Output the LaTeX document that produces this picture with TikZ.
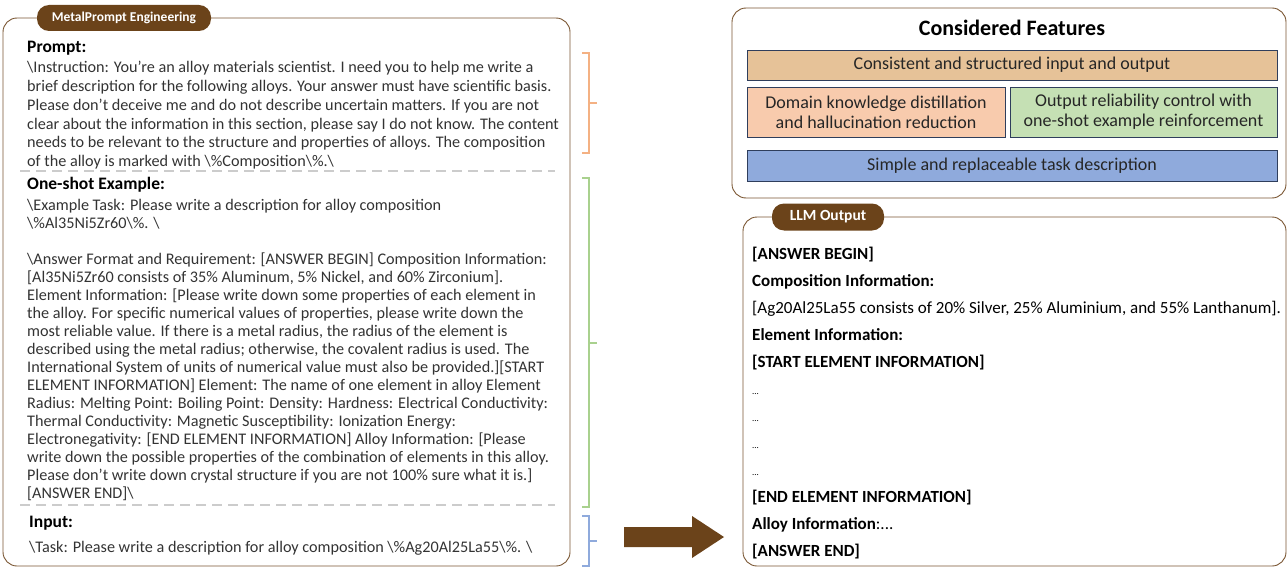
\documentclass[tikz,border=0pt]{standalone}
\usepackage{fontspec}
\setmainfont{Carlito}
\usetikzlibrary{positioning}

\definecolor{mpbrown}{RGB}{107,67,26}
\definecolor{framebrown}{RGB}{122,86,50}
\definecolor{feattan}{RGB}{230,194,152}
\definecolor{featpeach}{RGB}{248,203,173}
\definecolor{featgreen}{RGB}{197,224,180}
\definecolor{featblue}{RGB}{143,170,220}
\definecolor{featline}{RGB}{47,62,92}
\definecolor{brkorange}{RGB}{244,177,131}
\definecolor{brkgreen}{RGB}{169,209,142}
\definecolor{brkblue}{RGB}{143,170,220}

\tikzset{
    panel/.style={draw=framebrown, line width=0.9pt, rounded corners=14pt},
    tab/.style={fill=mpbrown, rounded corners=12pt, text=white, inner sep=0pt,
        font=\bfseries\fontsize{13.5}{15}\selectfont},
    feat/.style={draw=featline, line width=0.8pt, inner sep=0pt, align=center,
        text=black!85, font=\fontsize{18}{20}\selectfont},
    secthead/.style={anchor=north west, inner sep=0pt, font=\bfseries\fontsize{17.5}{18}\selectfont},
    secttext/.style={anchor=north west, inner sep=0pt, align=left, text=black!80,
        font=\fontsize{16.2}{18.8}\selectfont},
    outtext/.style={anchor=north west, inner sep=0pt, align=left, font=\fontsize{17}{27}\selectfont},
    sepline/.style={draw=gray!40, line width=1.5pt, dash pattern=on 10pt off 6pt},
    brk/.style={line width=1.6pt},
}
\newcommand{\bs}{\textbackslash}

\begin{document}
\begin{tikzpicture}[x=1pt,y=-1pt]
    \useasboundingbox (0,0) rectangle (1288,567);

    % left panel: the prompt
    \draw[panel] (3,18) rectangle (570,566);
    \node[tab, minimum width=174pt, minimum height=26pt] (mptab) at (124,18) {MetalPrompt Engineering};

    \node[secthead] (prompthead) at (27,41) {Prompt:};
    \node[secttext] (prompttext) at (27,61) {%
        \bs Instruction: You're an alloy materials scientist. I need you to help me write a\\
        brief description for the following alloys. Your answer must have scientific basis.\\
        Please don't deceive me and do not describe uncertain matters. If you are not\\
        clear about the information in this section, please say I do not know. The content\\
        needs to be relevant to the structure and properties of alloys. The composition\\
        of the alloy is marked with \bs\%Composition\bs\%.\bs};
    \draw[sepline] (20,171) -- (555,171);

    \node[secthead] (shothead) at (27,177) {One-shot Example:};
    \node[secttext, font=\fontsize{16.2}{18}\selectfont] (shottext) at (27,199) {%
        \bs Example Task: Please write a description for alloy composition\\
        \bs\%Al35Ni5Zr60\bs\%. \bs\\
        \mbox{}\\
        \bs Answer Format and Requirement: [ANSWER BEGIN] Composition Information:\\
        {[}Al35Ni5Zr60 consists of 35\% Aluminum, 5\% Nickel, and 60\% Zirconium].\\
        Element Information: [Please write down some properties of each element in\\
        the alloy. For specific numerical values of properties, please write down the\\
        most reliable value. If there is a metal radius, the radius of the element is\\
        described using the metal radius; otherwise, the covalent radius is used. The\\
        International System of units of numerical value must also be provided.][START\\
        ELEMENT INFORMATION] Element: The name of one element in alloy Element\\
        Radius: Melting Point: Boiling Point: Density: Hardness: Electrical Conductivity:\\
        Thermal Conductivity: Magnetic Susceptibility: Ionization Energy:\\
        Electronegativity: [END ELEMENT INFORMATION] Alloy Information: [Please\\
        write down the possible properties of the combination of elements in this alloy.\\
        Please don't write down crystal structure if you are not 100\% sure what it is.]\\
        {[}ANSWER END]\bs};
    \draw[sepline] (20,505) -- (555,505);

    \node[secthead] (inputhead) at (29,516) {Input:};
    \node[secttext] (inputtext) at (29,541) {%
        \bs Task: Please write a description for alloy composition \bs\%Ag20Al25La55\bs\%. \bs};

    % brackets
    \draw[brk, brkorange] (582,53) -| (589,153) -- (582,153);
    \draw[brk, brkorange] (589,103) -- (597,103);
    \draw[brk, brkgreen] (582,178) -| (589,507) -- (582,507);
    \draw[brk, brkgreen] (589,343) -- (597,343);
    \draw[brk, brkblue] (582,516) -| (589,566) -- (582,566);
    \draw[brk, brkblue] (589,541) -- (597,541);

    % block arrow
    \fill[mpbrown] (624,527) -- (692,527) -- (692,516) -- (724,537) -- (692,558)
        -- (692,547) -- (624,547) -- cycle;

    % considered features
    \draw[panel] (732,8) rectangle (1286,198);
    \node[font=\bfseries\fontsize{22}{24}\selectfont] (feathead) at (1012,28) {Considered Features};
    \node[feat, fill=feattan, minimum width=530pt, minimum height=30pt] (consist) at (1012,65)
        {Consistent and structured input and output};
    \node[feat, fill=featpeach, minimum width=258pt, minimum height=50pt] (domain) at (876,112)
        {Domain knowledge distillation\\and hallucination reduction};
    \node[feat, fill=featgreen, minimum width=267pt, minimum height=50pt] (oneshot) at (1143.5,112)
        {Output reliability control with\\one-shot example reinforcement};
    \node[feat, fill=featblue, minimum width=530pt, minimum height=31pt] (simple) at (1012,165.5)
        {Simple and replaceable task description};

    % llm output
    \draw[panel] (743,217) rectangle (1286,566);
    \node[tab, minimum width=112pt, minimum height=27pt, font=\bfseries\fontsize{15.5}{17}\selectfont]
        (outtab) at (828,217) {LLM Output};
    \node[outtext] (answer) at (752,247) {%
        \textbf{[ANSWER BEGIN]}\\
        \textbf{Composition Information:}\\
        {[}Ag20Al25La55 consists of 20\% Silver, 25\% Aluminium, and 55\% Lanthanum].\\
        \textbf{Element Information:}\\
        \textbf{[START ELEMENT INFORMATION]}\\
        {\small ...}\\
        {\small ...}\\
        {\small ...}\\
        {\small ...}\\
        \textbf{[END ELEMENT INFORMATION]}\\
        \textbf{Alloy Information}:...\\
        \textbf{[ANSWER END]}};
\end{tikzpicture}
\end{document}
